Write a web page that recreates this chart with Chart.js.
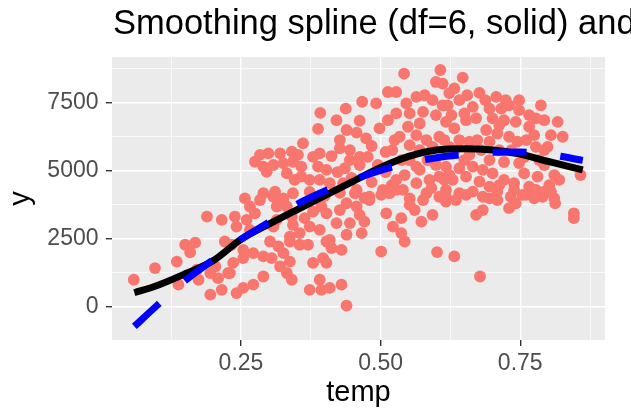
<!DOCTYPE html>
<html>
<head>
<meta charset="utf-8">
<script src="https://cdn.jsdelivr.net/npm/chart.js@4.4.1/dist/chart.umd.min.js"></script>
<style>
  html, body { margin: 0; padding: 0; background: #ffffff; }
  canvas { display: block; }
</style>
</head>
<body>
<canvas id="chart" width="631" height="413"></canvas>
<script>
const titleText = "Smoothing spline (df=6, solid) and";
const xTitle = "temp";
const yTitle = "y";

// observed points (temp, count), grouped roughly by area of the cloud
const temp = [
  // upper middle
  0.542, 0.607, 0.599, 0.611, 0.513, 0.528, 0.467, 0.492, 0.392, 0.4375,
  0.421, 0.4625, 0.388, 0.439, 0.457, 0.474, 0.427, 0.498, 0.513, 0.528,
  0.546, 0.564, 0.579, 0.593, 0.611, 0.552, 0.576, 0.599, 0.617, 0.570,
  0.549, 0.564, 0.534, 0.582, 0.605, 0.593, 0.552, 0.570,
  // middle
  0.412, 0.427, 0.445, 0.4625, 0.445, 0.436, 0.4625, 0.477, 0.409, 0.433,
  0.457, 0.480, 0.504, 0.528, 0.540, 0.564, 0.582, 0.605, 0.617, 0.599,
  0.564, 0.552, 0.623, 0.516, 0.552, 0.605,
  // right
  0.647, 0.632, 0.677, 0.707, 0.724, 0.748, 0.787, 0.817, 0.826, 0.620,
  0.641, 0.665, 0.650, 0.695, 0.716, 0.730, 0.748, 0.766, 0.778, 0.793,
  0.766, 0.742, 0.7005, 0.721, 0.653, 0.632, 0.614, 0.641, 0.659, 0.689,
  0.709, 0.730, 0.745, 0.695, 0.778, 0.799, 0.793, 0.811, 0.858, 0.820,
  0.802, 0.781, 0.757, 0.766, 0.739, 0.721, 0.7005, 0.683, 0.665, 0.641,
  0.629, 0.653, 0.677, 0.695, 0.617, 0.641, 0.665, 0.683, 0.709, 0.733,
  0.754, 0.778, 0.790, 0.811,
  // far left
  0.189, 0.2155, 0.150, 0.168, 0.159, 0.221, 0.233, 0.135, 0.096, 0.058,
  0.138, 0.171, 0.174, 0.195, 0.204, 0.209, 0.227, 0.2155, 0.195,
  // lower middle
  0.409, 0.412, 0.430, 0.409, 0.430, 0.439, 0.427, 0.439, 0.457, 0.4625,
  0.421, 0.445, 0.471, 0.439, 0.466, 0.454, 0.480, 0.501, 0.510, 0.537,
  0.522, 0.537, 0.543, 0.501, 0.573, 0.593, 0.552, 0.576, 0.617, 0.601,
  0.528,
  // lower right
  0.617, 0.635, 0.653, 0.671, 0.683, 0.709, 0.730, 0.742, 0.760, 0.775,
  0.793, 0.805, 0.8125, 0.846, 0.846, 0.632, 0.678,
  // left column of the cloud
  0.361, 0.284, 0.299, 0.320, 0.341, 0.352, 0.275, 0.290, 0.308, 0.326,
  0.343, 0.358, 0.379, 0.391, 0.388, 0.403, 0.296, 0.332, 0.346, 0.358,
  0.373, 0.391, 0.311, 0.290, 0.257, 0.284, 0.266, 0.308, 0.326, 0.343,
  0.314, 0.332, 0.275, 0.260, 0.239, 0.242, 0.266, 0.314, 0.308, 0.341,
  0.343, 0.364, 0.379, 0.394, 0.373, 0.391, 0.403, 0.355, 0.3375, 0.302,
  0.317, 0.3375, 0.355, 0.370, 0.403, 0.254, 0.272, 0.254, 0.290, 0.305,
  0.326, 0.3375, 0.236, 0.230, 0.290, 0.320, 0.332, 0.341, 0.272, 0.254,
  0.242, 0.373, 0.394, 0.391, 0.403, 0.397, 0.379,
  // inside the dense core
  0.423, 0.448, 0.484, 0.509, 0.521, 0.5375, 0.584, 0.614, 0.5875, 0.623,
  0.655, 0.6875, 0.671, 0.632, 0.659, 0.680, 0.7125, 0.734, 0.757, 0.721,
  0.748, 0.695, 0.784, 0.761, 0.471, 0.561, 0.695,
  0.373, 0.400, 0.427, 0.495, 0.509, 0.484, 0.525, 0.543, 0.570, 0.591,
  0.520, 0.627, 0.673, 0.7125, 0.775, 0.793, 0.805, 0.739, 0.7125, 0.650,
  0.623
];
const count = [
  // upper middle
  8580, 8710, 8270, 8210, 7900, 7900, 7540, 7480, 7130, 7290,
  6860, 6840, 6540, 6500, 6400, 6190, 6130, 6560, 6860, 7110,
  7480, 7720, 7780, 7600, 7410, 7110, 7170, 7050, 6800, 6740,
  6620, 6310, 6250, 6130, 6250, 5880, 5940, 5760,
  // middle
  5540, 5820, 5760, 5510, 5390, 5090, 5210, 5510, 4540, 4540,
  4290, 4040, 4290, 4660, 4290, 4540, 4170, 4780, 5150, 5210,
  5150, 5390, 5880, 4170, 3980, 4040,
  // right
  8430, 8030, 7870, 7720, 7600, 7600, 7410, 6800, 6250, 7410,
  7600, 7350, 7110, 7290, 7290, 7410, 7230, 7050, 6930, 6860,
  6620, 6800, 6930, 6860, 6860, 6560, 6130, 6130, 6070, 6500,
  6370, 6250, 6070, 6070, 5880, 5880, 5210, 4840, 4840, 4660,
  4470, 4780, 4900, 4410, 4540, 4660, 4900, 5030, 5150, 5090,
  4660, 4780, 4600, 4410, 4290, 4170, 4230, 4040, 4230, 4040,
  4110, 4290, 4040, 3980,
  // far left
  3310, 3190, 2270, 2350, 1990, 2390, 2270, 1650, 1410, 980,
  800, 1350, 980, 1230, 1470, 1040, 1230, 610, 430,
  // lower middle
  2450, 2150, 2080, 680, 800, 30, 3550, 3800, 3680, 3370,
  3070, 3070, 3120, 2640, 2700, 4170, 3920, 4110, 3430, 3250,
  2940, 2700, 2390, 2020, 3120, 3370, 3740, 3920, 3860, 2000,
  4290,
  // lower right
  4040, 3920, 4110, 3370, 3550, 3920, 3620, 3800, 4110, 3980,
  4230, 4230, 3800, 3430, 3250, 1840, 1100,
  // left column of the cloud
  6010, 5580, 5640, 5640, 5700, 5580, 5330, 5150, 5210, 5270,
  5330, 5150, 5510, 5640, 5150, 5030, 4960, 4900, 4660, 4780,
  4660, 4660, 4230, 4170, 3980, 3920, 3680, 4040, 3980, 4170,
  3680, 3680, 3430, 3190, 3310, 2940, 2820, 3190, 2940, 3310,
  3000, 3250, 3490, 3680, 2940, 2820, 3430, 2700, 2570, 2390,
  2210, 2390, 2270, 2270, 2390, 2080, 1960, 1780, 1840, 1780,
  1960, 1650, 1600, 1230, 1100, 1470, 1230, 980, 800, 680,
  490, 610, 610, 980, 1600, 1780, 1600,
  // inside the dense core
  4950, 4730, 4580, 4950, 5760, 5390, 5390, 4660, 4660, 7860,
  7780, 7600, 6940, 5760, 5580, 5760, 5760, 5760, 5500, 5320,
  5280, 5390, 5390, 6130, 4000, 3550, 3980,
  4220, 4070, 4180, 5210, 5690, 5910, 6130, 4840, 5030, 4360,
  4470, 7050, 6130, 6680, 6310, 5760, 6310, 4290, 4470, 5390,
  4840
];

// fitted curves read along temp
const curveTemp = [0.059, 0.10, 0.15, 0.20, 0.25, 0.30, 0.35, 0.40, 0.45, 0.50, 0.55, 0.60, 0.65, 0.70, 0.75, 0.80, 0.862];
const splineFit = [500, 770, 1200, 1680, 2470, 3030, 3560, 4080, 4600, 5120, 5530, 5760, 5810, 5760, 5610, 5340, 5030];
const dashedFit = [-740, 40, 950, 1720, 2470, 3100, 3760, 4250, 4660, 5010, 5290, 5480, 5600, 5680, 5690, 5600, 5380];

const xTicks = [0.125, 0.25, 0.375, 0.5, 0.625, 0.75, 0.875];
const xLabels = ["", "0.25", "", "0.50", "", "0.75", ""];
const yTicks = [0, 1250, 2500, 3750, 5000, 6250, 7500, 8750];
const yLabels = ["0", "", "2500", "", "5000", "", "7500", ""];

const pts = temp.map((t, i) => ({ x: t, y: count[i] }));
const spline = curveTemp.map((t, i) => ({ x: t, y: splineFit[i] }));
const dashed = curveTemp.map((t, i) => ({ x: t, y: dashedFit[i] }));

const panelPlugin = {
  id: "panel",
  beforeDraw(chart) {
    const { ctx, chartArea } = chart;
    ctx.save();
    ctx.fillStyle = "#ffffff";
    ctx.fillRect(0, 0, chart.width, chart.height);
    ctx.fillStyle = "#EBEBEB";
    ctx.fillRect(chartArea.left, chartArea.top, chartArea.right - chartArea.left, chartArea.bottom - chartArea.top);
    ctx.fillStyle = "#000000";
    ctx.font = '34.5px "Liberation Sans", Arial, sans-serif';
    ctx.textBaseline = "alphabetic";
    ctx.textAlign = "left";
    ctx.fillText(titleText, chartArea.left + 1, 34);
    ctx.restore();
  }
};

function isMajor(list, labels, value) {
  const i = list.indexOf(value);
  return i >= 0 && labels[i] !== "";
}

const ctx = document.getElementById("chart").getContext("2d");
new Chart(ctx, {
  type: "scatter",
  data: {
    datasets: [
      {
        data: dashed,
        showLine: true,
        borderColor: "#0000FF",
        borderWidth: 7,
        borderDash: [34, 34],
        borderCapStyle: "butt",
        pointRadius: 0,
        cubicInterpolationMode: "monotone",
        order: 1
      },
      {
        data: spline,
        showLine: true,
        borderColor: "#000000",
        borderWidth: 7,
        borderCapStyle: "butt",
        pointRadius: 0,
        cubicInterpolationMode: "monotone",
        order: 2
      },
      {
        data: pts,
        backgroundColor: "#F8766D",
        borderWidth: 0,
        pointRadius: 5.9,
        order: 3
      }
    ]
  },
  options: {
    responsive: false,
    animation: false,
    devicePixelRatio: 1,
    layout: { padding: { top: 57, right: 26, left: 0, bottom: 0 } },
    plugins: { legend: { display: false }, tooltip: { enabled: false } },
    scales: {
      x: {
        type: "linear",
        min: 0.019,
        max: 0.9018,
        afterBuildTicks: (axis) => { axis.ticks = xTicks.map(v => ({ value: v })); },
        afterFit: (axis) => { axis.height = 73; },
        border: { display: false },
        grid: {
          color: "#FFFFFF",
          lineWidth: (c) => isMajor(xTicks, xLabels, c.tick.value) ? 1.4 : 0.7,
          tickColor: (c) => isMajor(xTicks, xLabels, c.tick.value) ? "#333333" : "rgba(0,0,0,0)",
          tickWidth: 1.4,
          tickLength: 6
        },
        ticks: {
          autoSkip: false,
          maxRotation: 0,
          padding: 4,
          color: "#4D4D4D",
          font: { family: "'Liberation Sans', Arial, sans-serif", size: 23 },
          callback: (v) => xLabels[xTicks.indexOf(v)] || ""
        },
        title: {
          display: true,
          text: xTitle,
          color: "#000000",
          font: { family: "'Liberation Sans', Arial, sans-serif", size: 29 },
          padding: { top: 0, bottom: 3 }
        }
      },
      y: {
        type: "linear",
        min: -1240,
        max: 9190,
        afterBuildTicks: (axis) => { axis.ticks = yTicks.map(v => ({ value: v })); },
        afterFit: (axis) => { axis.width = 112; },
        border: { display: false },
        grid: {
          color: "#FFFFFF",
          lineWidth: (c) => isMajor(yTicks, yLabels, c.tick.value) ? 1.4 : 0.7,
          tickColor: (c) => isMajor(yTicks, yLabels, c.tick.value) ? "#333333" : "rgba(0,0,0,0)",
          tickWidth: 1.4,
          tickLength: 6
        },
        ticks: {
          autoSkip: false,
          padding: 7.5,
          color: "#4D4D4D",
          font: { family: "'Liberation Sans', Arial, sans-serif", size: 23 },
          callback: (v) => yLabels[yTicks.indexOf(v)] || ""
        },
        title: {
          display: true,
          text: yTitle,
          color: "#000000",
          font: { family: "'Liberation Sans', Arial, sans-serif", size: 29 },
          padding: { top: 4, bottom: 0 }
        }
      }
    }
  },
  plugins: [panelPlugin]
});
</script>
</body>
</html>
